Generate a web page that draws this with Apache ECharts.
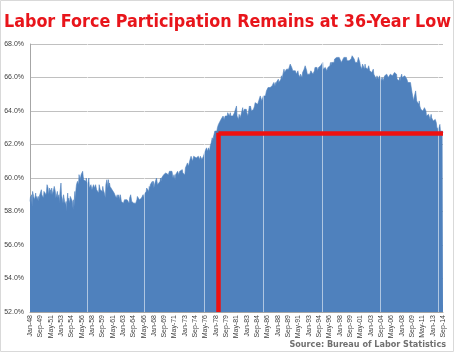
<!DOCTYPE html>
<html>
<head>
<meta charset="utf-8">
<script src="https://cdn.jsdelivr.net/npm/echarts@6/dist/echarts.min.js"></script>
<style>
  html, body { margin: 0; padding: 0; background: #fff; }
  #main { width: 455px; height: 353px; }
</style>
</head>
<body>
<div id="main"></div>
<script>
// monthly labels Jan-48 .. Sep-14
const monthNames = ['Jan','Feb','Mar','Apr','May','Jun','Jul','Aug','Sep','Oct','Nov','Dec'];
const firstYear = 1948, lastYear = 2014, lastMonth = 9;

// labor force participation rate, %, one row per year
const participation = [
  58.6,58.9,58.5,59.0,58.3,59.2,59.3,58.9,58.9,58.7,58.7,59.1, // 1948
  58.7,58.9,58.7,58.6,58.9,58.6,58.9,58.8,59.1,59.0,59.3,59.0,
  58.9,58.9,58.8,59.2,59.1,59.1,59.1,59.0,59.2,59.6,59.5,59.4, // 1950
  59.0,59.1,59.4,59.0,59.3,59.0,59.4,59.2,59.0,59.2,59.1,59.5,
  59.5,59.2,58.8,58.8,58.9,59.2,58.8,58.7,59.0,58.5,59.1,59.0,
  59.7,59.0,59.0,58.9,58.5,59.0,58.8,58.6,58.5,58.4,58.6,58.0,
  58.7,59.1,58.6,58.8,58.7,58.5,58.9,58.9,59.0,58.8,58.6,58.2,
  58.7,58.1,58.8,59.2,58.7,59.3,59.6,59.7,59.8,59.8,59.6,60.2, // 1955
  60.2,59.9,59.9,60.2,60.1,60.2,60.4,60.1,59.9,59.9,59.8,59.9,
  59.8,60.0,59.8,59.6,59.5,59.8,60.0,59.4,59.5,59.5,59.6,59.5,
  59.3,59.4,59.4,59.6,59.7,59.4,59.5,59.6,59.5,59.3,59.4,59.2,
  59.3,59.1,59.6,59.5,59.3,59.3,59.4,59.4,59.2,59.5,59.3,59.4,
  59.1,59.1,58.8,59.6,59.7,59.9,59.8,59.4,59.9,59.5,59.7,59.5, // 1960
  59.6,59.6,59.6,59.3,59.3,59.4,59.3,59.1,59.0,59.0,59.0,58.8,
  58.9,59.0,58.8,58.8,59.0,59.0,58.7,59.0,59.0,58.6,58.6,58.6,
  58.6,58.5,58.5,58.7,58.6,58.6,58.6,58.6,58.7,58.7,58.7,58.6,
  58.5,58.8,58.7,59.0,59.0,58.6,58.6,58.6,58.7,58.5,58.6,58.6,
  58.6,58.5,58.6,58.7,58.9,58.8,58.9,58.9,58.7,58.7,58.8,58.8, // 1965
  58.8,58.7,58.8,59.0,58.8,59.0,59.1,59.1,59.1,59.2,59.4,59.5,
  59.3,59.4,59.2,59.5,59.3,59.6,59.6,59.7,59.7,59.8,59.6,59.8,
  59.4,59.5,59.7,59.6,59.8,60.0,59.8,59.6,59.5,59.5,59.6,59.6,
  59.8,60.0,59.8,60.0,59.9,60.1,60.1,60.2,60.3,60.2,60.1,60.3,
  60.3,60.2,60.4,60.4,60.2,60.3,60.4,60.4,60.3,60.4,60.4,60.4, // 1970
  60.2,60.0,60.1,60.2,60.2,59.9,60.2,60.2,60.3,60.2,60.4,60.4,
  60.2,60.1,60.4,60.3,60.3,60.4,60.4,60.5,60.3,60.3,60.4,60.4,
  60.2,60.6,60.7,60.7,60.6,60.9,60.8,60.7,60.8,60.8,61.1,61.0,
  61.3,61.3,61.2,61.0,61.1,61.3,61.3,61.2,61.3,61.3,61.2,61.1,
  61.2,61.1,61.3,61.2,61.4,61.1,61.3,61.3,61.2,61.1,61.2,61.2, // 1975
  61.3,61.2,61.3,61.6,61.5,61.6,61.8,61.9,61.6,61.6,61.8,61.7,
  61.6,61.9,62.0,62.1,62.2,62.4,62.2,62.4,62.3,62.4,62.8,62.7,
  62.8,62.7,62.8,63.0,63.0,63.2,63.2,63.2,63.3,63.3,63.5,63.5,
  63.6,63.6,63.7,63.6,63.5,63.6,63.7,63.7,63.7,63.7,63.7,63.9,
  63.9,63.8,63.7,63.8,63.9,63.7,63.8,63.7,63.6,63.7,63.8,63.6, // 1980
  63.9,63.9,64.1,64.2,64.3,63.7,63.8,63.8,63.5,63.8,63.9,63.6,
  63.7,63.8,63.8,63.9,64.2,63.9,64.0,64.1,64.1,64.1,64.2,64.1,
  63.9,63.8,63.7,63.8,63.7,64.3,64.1,64.3,64.3,64.0,64.1,64.1,
  63.9,64.1,64.1,64.3,64.5,64.6,64.6,64.4,64.4,64.4,64.5,64.6,
  64.7,64.7,64.9,64.9,64.8,64.6,64.7,64.6,64.9,65.0,64.9,65.0, // 1985
  64.9,65.0,65.2,65.2,65.3,65.4,65.4,65.4,65.3,65.4,65.4,65.3,
  65.4,65.5,65.5,65.4,65.7,65.5,65.6,65.7,65.5,65.7,65.7,65.7,
  65.8,65.9,65.7,65.8,65.7,65.8,65.9,66.1,65.9,66.0,66.2,66.1,
  66.5,66.3,66.3,66.4,66.3,66.5,66.5,66.5,66.4,66.5,66.6,66.5,
  66.8,66.7,66.7,66.6,66.6,66.4,66.5,66.5,66.4,66.4,66.4,66.4, // 1990
  66.2,66.2,66.3,66.4,66.2,66.2,66.1,66.0,66.2,66.1,66.1,66.0,
  66.3,66.2,66.4,66.5,66.6,66.7,66.7,66.6,66.4,66.2,66.3,66.3,
  66.2,66.2,66.2,66.1,66.4,66.5,66.4,66.4,66.2,66.3,66.3,66.4,
  66.6,66.6,66.5,66.5,66.6,66.4,66.4,66.6,66.6,66.7,66.7,66.7,
  66.8,66.8,66.7,66.9,66.5,66.5,66.6,66.6,66.6,66.6,66.5,66.4, // 1995
  66.4,66.6,66.6,66.7,66.7,66.7,66.9,66.7,66.9,67.0,66.9,67.0,
  67.0,66.9,67.1,67.1,67.1,67.1,67.2,67.1,67.1,67.1,67.1,67.2,
  67.1,67.1,67.1,66.9,67.0,67.0,67.0,67.0,67.2,67.2,67.1,67.2,
  67.2,67.2,67.0,67.1,67.1,67.1,67.0,67.0,67.0,67.0,67.1,67.1,
  67.3,67.3,67.3,67.3,67.1,67.1,66.9,66.9,66.9,66.8,66.9,67.0, // 2000
  67.2,67.1,67.2,66.9,66.7,66.7,66.8,66.5,66.8,66.7,66.7,66.7,
  66.5,66.8,66.6,66.7,66.7,66.6,66.5,66.6,66.7,66.6,66.4,66.3,
  66.4,66.4,66.3,66.4,66.4,66.5,66.2,66.1,66.1,66.1,66.1,65.9,
  66.1,66.0,66.0,65.9,65.9,66.1,66.1,66.0,65.8,65.9,66.0,65.9,
  65.8,65.9,65.9,66.1,66.1,66.1,66.1,66.2,66.1,66.1,66.0,66.0, // 2005
  66.0,66.1,66.2,66.1,66.1,66.2,66.1,66.2,66.1,66.2,66.3,66.4,
  66.4,66.3,66.2,65.9,66.0,66.0,66.0,65.8,66.0,65.8,66.0,66.0,
  66.2,66.0,66.1,65.9,66.1,66.1,66.1,66.1,66.0,66.0,65.9,65.8,
  65.7,65.8,65.6,65.7,65.7,65.7,65.5,65.4,65.1,65.0,65.0,64.6,
  64.8,64.9,64.9,65.2,64.9,64.6,64.6,64.7,64.6,64.4,64.6,64.3, // 2010
  64.2,64.1,64.2,64.2,64.1,64.0,64.0,64.1,64.2,64.1,64.1,64.0,
  63.7,63.8,63.8,63.7,63.8,63.8,63.7,63.5,63.6,63.8,63.6,63.7,
  63.6,63.4,63.3,63.4,63.4,63.5,63.4,63.3,63.2,62.8,63.0,62.8,
  63.0,63.0,63.2,62.8,62.8,62.8,62.9,62.8,62.7                 // 2014
];

// red marker: level of the latest reading, reached last in 1978
const lowLevel = 62.7;
const lowMonth = 'Jun-78';
const latestMonth = 'Sep-14';
const axisBottom = 52;

// faint white seams in the original column fill
const seamMonths = ['Mar-57', 'Jul-66', 'Feb-76', 'Sep-85', 'Mar-95', 'Aug-04', 'Nov-13'];

const months = [];
for (let y = firstYear; y <= lastYear; y++) {
  const yy = String(y % 100).padStart(2, '0');
  const n = y === lastYear ? lastMonth : 12;
  for (let m = 0; m < n; m++) months.push(monthNames[m] + '-' + yy);
}

const condensed = '"DejaVu Sans Condensed", "DejaVu Sans", sans-serif';

const chart = echarts.init(document.getElementById('main'));
chart.setOption({
  animation: false,
  title: {
    text: 'Labor Force Participation Remains at 36-Year Low',
    left: 'center',
    top: 8,
    textStyle: {
      color: '#e8151b',
      fontFamily: condensed,
      fontWeight: 'bold',
      fontSize: 17.8
    }
  },
  graphic: [
    {
      type: 'rect',
      shape: { x: 0.5, y: 0.5, width: 453, height: 351 },
      style: { fill: 'none', stroke: '#d9d9d9', lineWidth: 1 },
      silent: true
    },
    {
      type: 'text',
      right: 9,
      top: 340,
      style: {
        text: 'Source: Bureau of Labor Statistics',
        fill: '#707070',
        font: 'bold 9px ' + condensed
      }
    }
  ],
  grid: { left: 30, right: 12, top: 44, bottom: 41 },
  xAxis: {
    type: 'category',
    data: months,
    boundaryGap: false,
    axisLine: { lineStyle: { color: '#a6a6a6' } },
    axisTick: { show: false },
    axisLabel: {
      interval: 19,
      rotate: 90,
      fontSize: 7,
      color: '#404040',
      fontFamily: 'Liberation Sans',
      margin: 3
    },
    splitLine: { show: false }
  },
  yAxis: {
    type: 'value',
    min: 52,
    max: 68,
    interval: 2,
    axisLine: { show: true, lineStyle: { color: '#a6a6a6' } },
    axisTick: { show: false },
    axisLabel: {
      formatter: v => v.toFixed(1) + '%',
      fontSize: 7,
      color: '#404040',
      fontFamily: 'Liberation Sans',
      margin: 6
    },
    splitLine: { lineStyle: { color: '#c0c0c0' } }
  },
  series: [{
    type: 'line',
    data: participation,
    showSymbol: false,
    symbol: 'none',
    lineStyle: { width: 0.6, color: '#4f81bd' },
    areaStyle: { color: '#4f81bd', opacity: 1, origin: 'start' },
    markLine: {
      silent: true,
      symbol: 'none',
      label: { show: false },
      data: seamMonths.map(m => ({
        xAxis: m,
        lineStyle: { color: 'rgba(255,255,255,0.55)', width: 1, type: 'solid' }
      })).concat([
        [
          { coord: [lowMonth, axisBottom], lineStyle: { color: '#ee1111', width: 4.5, type: 'solid' } },
          { coord: [lowMonth, lowLevel] }
        ],
        [
          { coord: [lowMonth, lowLevel], lineStyle: { color: '#ee1111', width: 4.5, type: 'solid' } },
          { coord: [latestMonth, lowLevel] }
        ]
      ])
    }
  }]
});
</script>
</body>
</html>
